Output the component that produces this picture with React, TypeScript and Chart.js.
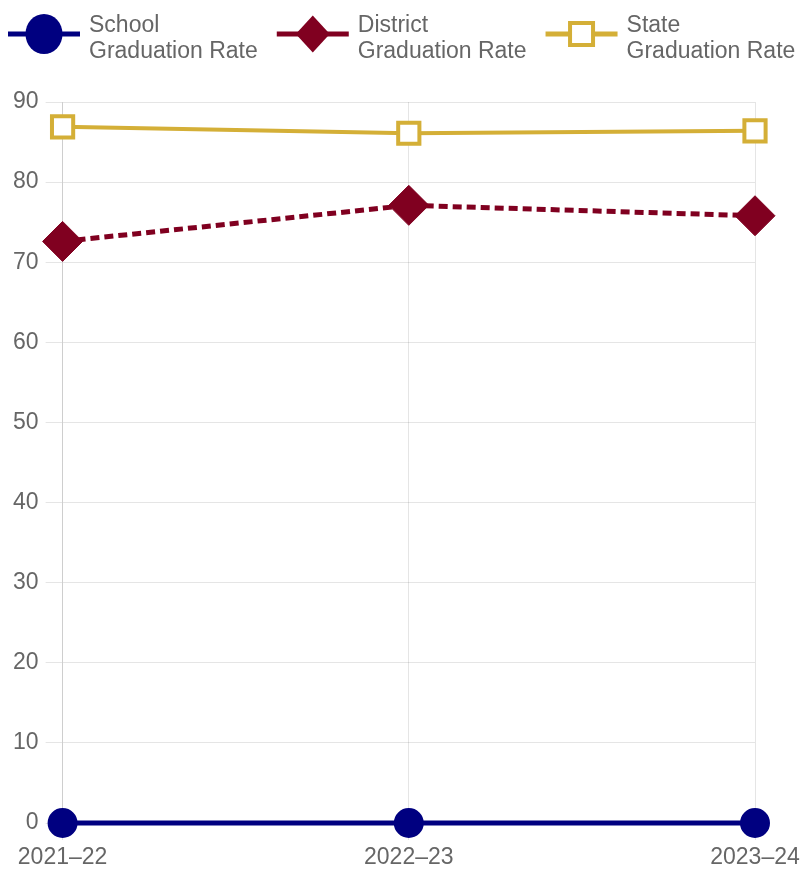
import React, { useEffect, useRef } from "react";
import { Chart, registerables } from "chart.js";

Chart.register(...registerables);

const categories = ["2021–22", "2022–23", "2023–24"];
const seriesNames = ["School", "District", "State"];
const legendSecondLine = "Graduation Rate";
const schoolRate = [0, 0, 0];
const districtRate = [72.6, 77.1, 75.8];
const stateRate = [86.9, 86.1, 86.4];
const yMin = 0;
const yMax = 90;
const yStep = 10;

const NAVY = "#000080";
const MAROON = "#800020";
const GOLD = "#d4af37";
const TEXT = "#666666";
const FONT_FAMILY = "'Liberation Sans', Arial, sans-serif";
const FONT_SIZE = 23;

const legendPlugin = {
  id: "customLegend",
  afterDraw(chart: any) {
    const ctx = chart.ctx;
    ctx.save();
    ctx.font = `${FONT_SIZE}px ${FONT_FAMILY}`;
    const iconW = 72;
    const textGap = 9;
    const gap = 19;
    let x = 8;
    const lineY = 34;
    chart.data.datasets.forEach((ds: any, i: number) => {
      const lines = [seriesNames[i], legendSecondLine];
      const tw = Math.max(...lines.map((l) => ctx.measureText(l).width));
      ctx.strokeStyle = ds.borderColor;
      ctx.lineWidth = 5;
      ctx.setLineDash([]);
      ctx.beginPath();
      ctx.moveTo(x, lineY);
      ctx.lineTo(x + iconW, lineY);
      ctx.stroke();
      const cx = x + iconW / 2;
      const style = ds.pointStyle;
      ctx.beginPath();
      if (style === "circle") {
        ctx.ellipse(cx, lineY, 18.5, 20, 0, 0, Math.PI * 2);
        ctx.fillStyle = ds.borderColor;
        ctx.fill();
      } else if (style === "rectRot") {
        ctx.moveTo(cx - 17, lineY);
        ctx.lineTo(cx, lineY - 18.5);
        ctx.lineTo(cx + 17, lineY);
        ctx.lineTo(cx, lineY + 18.5);
        ctx.closePath();
        ctx.fillStyle = ds.borderColor;
        ctx.fill();
      } else {
        ctx.rect(cx - 11.5, lineY - 11, 23, 22);
        ctx.fillStyle = "#ffffff";
        ctx.fill();
        ctx.lineWidth = 4;
        ctx.strokeStyle = ds.borderColor;
        ctx.stroke();
      }
      ctx.fillStyle = TEXT;
      ctx.textAlign = "left";
      ctx.textBaseline = "alphabetic";
      const tx = x + iconW + textGap;
      ctx.fillText(lines[0], tx, 32);
      ctx.fillText(lines[1], tx, 58);
      x += iconW + textGap + tw + gap;
    });
    ctx.restore();
  },
};

export default function App() {
  const canvasRef = useRef<HTMLCanvasElement | null>(null);

  useEffect(() => {
    document.body.style.margin = "0";
    document.documentElement.style.overflow = "hidden";
    const canvas = canvasRef.current;
    if (!canvas) return;
    const chart = new Chart(canvas, {
      type: "line",
      data: {
        labels: categories,
        datasets: [
          {
            label: `${seriesNames[0]} ${legendSecondLine}`,
            data: schoolRate,
            borderColor: NAVY,
            backgroundColor: NAVY,
            borderWidth: 5,
            pointStyle: "circle",
            pointRadius: 14,
            pointHoverRadius: 14,
            pointBorderWidth: 2,
            pointBackgroundColor: NAVY,
            pointBorderColor: NAVY,
            tension: 0,
            clip: false,
          },
          {
            label: `${seriesNames[1]} ${legendSecondLine}`,
            data: districtRate,
            borderColor: MAROON,
            backgroundColor: MAROON,
            borderWidth: 5,
            borderDash: [9, 5],
            pointStyle: "rectRot",
            pointRadius: 20,
            pointHoverRadius: 20,
            pointBorderWidth: 1,
            pointBackgroundColor: MAROON,
            pointBorderColor: MAROON,
            tension: 0,
            clip: false,
          },
          {
            label: `${seriesNames[2]} ${legendSecondLine}`,
            data: stateRate,
            borderColor: GOLD,
            backgroundColor: "#ffffff",
            borderWidth: 4,
            pointStyle: "rect",
            pointRadius: 15,
            pointHoverRadius: 15,
            pointBorderWidth: 4,
            pointBackgroundColor: "#ffffff",
            pointBorderColor: GOLD,
            tension: 0,
            clip: false,
          },
        ],
      },
      options: {
        animation: false,
        responsive: true,
        maintainAspectRatio: false,
        layout: { padding: { top: 102, left: 6, right: 57, bottom: 0 } },
        plugins: {
          legend: { display: false },
          tooltip: { enabled: false },
        },
        scales: {
          x: {
            offset: false,
            grid: { color: "rgba(0,0,0,0.1)", tickLength: 17 },
            border: { color: "rgba(0,0,0,0.1)" },
            ticks: {
              color: TEXT,
              padding: 6,
              maxRotation: 0,
              font: { family: FONT_FAMILY, size: FONT_SIZE, lineHeight: 1 },
            },
          },
          y: {
            min: yMin,
            max: yMax,
            grid: { color: "rgba(0,0,0,0.1)", tickLength: 17 },
            border: { color: "rgba(0,0,0,0.1)" },
            ticks: {
              stepSize: yStep,
              color: TEXT,
              padding: 7,
              font: { family: FONT_FAMILY, size: FONT_SIZE },
            },
          },
        },
      },
      plugins: [legendPlugin],
    });
    return () => chart.destroy();
  }, []);

  return (
    <div style={{ position: "relative", width: "812px", height: "875px" }}>
      <canvas ref={canvasRef} />
    </div>
  );
}
